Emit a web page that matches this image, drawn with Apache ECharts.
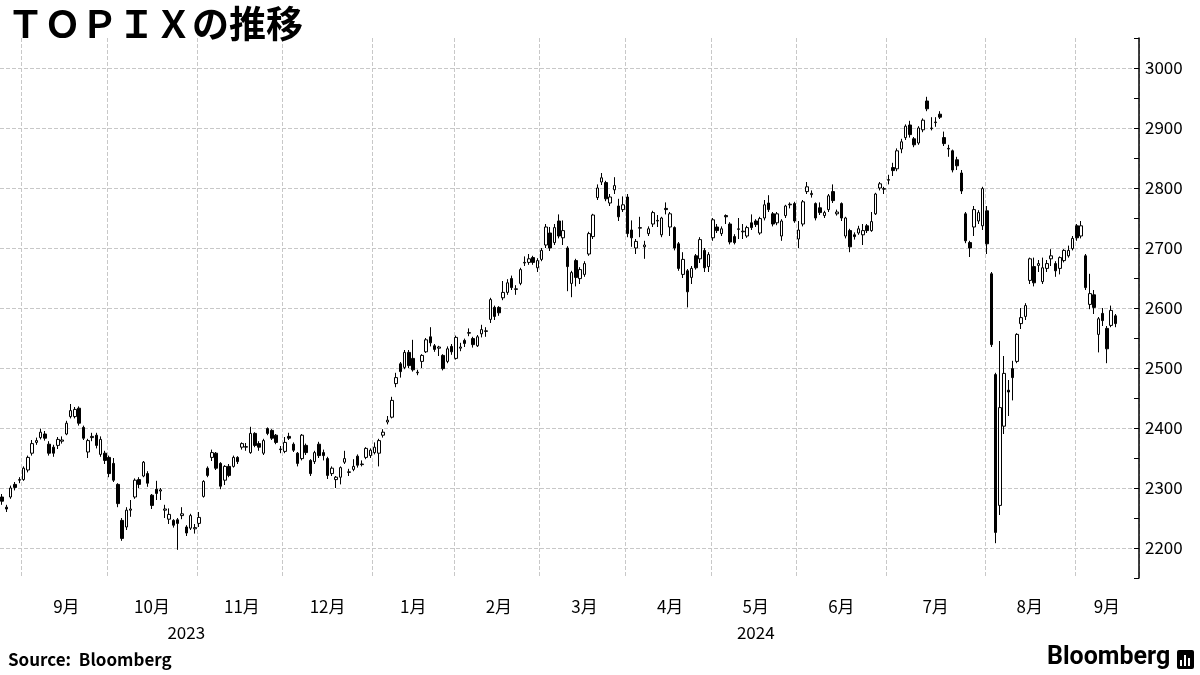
<!DOCTYPE html>
<html>
<head>
<meta charset="utf-8">
<script src="https://cdn.jsdelivr.net/npm/echarts@6/dist/echarts.min.js"></script>
<style>html,body{margin:0;padding:0;background:#fff}#main{width:1200px;height:675px}</style>
</head>
<body>
<div id="main"></div>
<script>
// daily candles [open, close, low, high], one list per month
var aug23 = [[2285,2278,2272,2290],[2268,2265,2260,2272],[2285,2300,2282,2304],[2306,2301,2296,2310],[2313,2314,2308,2318]];
var sep23 = [[2314,2333,2312,2336],[2330,2351,2326,2354],[2358,2374,2354,2380],[2376,2379,2372,2384],[2384,2393,2381,2399],
  [2390,2383,2379,2395],[2373,2358,2354,2378],[2368,2358,2352,2372],[2371,2381,2365,2385],[2378,2380,2374,2386],
  [2390,2408,2388,2412],[2419,2429,2416,2440],[2419,2431,2416,2435],[2433,2408,2404,2436],[2401,2383,2380,2404],
  [2360,2379,2350,2382],[2384,2386,2378,2392],[2388,2371,2366,2392],[2356,2381,2352,2386],[2358,2346,2340,2362]];
var oct23 = [[2351,2324,2318,2354],[2341,2313,2310,2350],[2306,2274,2268,2308],[2246,2216,2212,2250],[2235,2263,2230,2268],
  [2263,2265,2252,2280],[2285,2313,2282,2316],[2314,2306,2300,2318],[2320,2343,2318,2345],[2324,2308,2302,2328],
  [2288,2271,2265,2290],[2298,2291,2280,2312],[2295,2297,2280,2300],[2263,2265,2250,2272],[2248,2256,2240,2266],
  [2246,2238,2234,2248],[2247,2241,2197,2250],[2254,2257,2248,2268],[2235,2225,2220,2238],[2233,2254,2230,2257],
  [2232,2234,2224,2240]];
var nov23 = [[2241,2251,2235,2260],[2286,2311,2284,2313],[2333,2321,2318,2336],[2351,2359,2345,2364],[2358,2333,2330,2360],
  [2341,2303,2298,2343],[2313,2336,2305,2338],[2336,2321,2318,2340],[2336,2351,2334,2354],[2351,2344,2340,2353],
  [2368,2374,2364,2376],[2368,2369,2362,2375],[2359,2391,2357,2402],[2391,2371,2368,2393],[2374,2368,2362,2378],
  [2358,2379,2355,2382],[2399,2391,2388,2401],[2396,2383,2380,2398],[2388,2376,2373,2390],[2364,2365,2358,2370]];
var dec23 = [[2361,2376,2358,2385],[2386,2383,2380,2392],[2373,2363,2360,2376],[2358,2341,2336,2360],[2349,2388,2346,2390],
  [2371,2359,2355,2374],[2346,2324,2320,2348],[2344,2359,2340,2362],[2373,2354,2350,2377],[2359,2354,2346,2364],
  [2349,2321,2315,2352],[2324,2333,2320,2336],[2314,2318,2300,2320],[2318,2334,2306,2336],[2343,2349,2340,2362],
  [2326,2327,2320,2332],[2331,2336,2328,2348],[2353,2338,2334,2356],[2339,2340,2336,2346],[2351,2366,2348,2368],
  [2354,2363,2350,2366]];
var jan24 = [[2359,2368,2356,2376],[2358,2379,2336,2382],[2388,2393,2384,2398],[2410,2413,2406,2420],[2418,2446,2416,2452],
  [2474,2484,2468,2492],[2507,2494,2484,2510],[2501,2526,2498,2530],[2526,2504,2500,2530],[2516,2497,2494,2547],
  [2492,2493,2488,2497],[2511,2521,2500,2523],[2527,2547,2525,2550],[2552,2542,2536,2568],[2537,2531,2527,2540],
  [2533,2535,2520,2537],[2521,2499,2496,2523],[2511,2532,2508,2536],[2536,2527,2522,2540]];
var feb24 = [[2516,2551,2514,2554],[2533,2535,2528,2542],[2546,2541,2535,2549],[2558,2559,2553,2566],[2549,2539,2534,2552],
  [2537,2552,2535,2555],[2557,2564,2551,2572],[2561,2562,2552,2568],[2581,2614,2575,2617],[2601,2586,2580,2604],
  [2601,2592,2587,2603],[2617,2626,2613,2645],[2626,2642,2622,2648],[2649,2634,2630,2654],[2631,2632,2622,2638],
  [2641,2664,2638,2667],[2675,2676,2670,2686],[2676,2682,2672,2690],[2684,2676,2672,2687],[2667,2679,2660,2683]];
var mar24 = [[2681,2696,2678,2700],[2705,2735,2700,2740],[2725,2700,2695,2735],[2709,2734,2705,2740],[2745,2720,2716,2756],
  [2717,2729,2705,2746],[2700,2669,2628,2703],[2641,2659,2618,2662],[2679,2651,2636,2682],[2649,2664,2640,2668],
  [2656,2674,2652,2678],[2690,2724,2687,2727],[2719,2755,2715,2757],[2784,2800,2780,2806],[2810,2817,2805,2825],
  [2809,2782,2778,2812],[2775,2785,2770,2790],[2797,2804,2790,2818],[2770,2752,2745,2782],[2764,2772,2760,2786]];
var apr24 = [[2785,2724,2718,2790],[2730,2717,2702,2746],[2700,2711,2690,2715],[2733,2734,2718,2752],[2702,2705,2682,2712],
  [2724,2732,2720,2736],[2740,2759,2735,2762],[2745,2746,2735,2755],[2722,2750,2718,2752],[2766,2764,2756,2776],
  [2735,2757,2720,2760],[2734,2700,2696,2736],[2707,2666,2662,2710],[2656,2681,2650,2693],[2662,2627,2601,2665],
  [2651,2666,2640,2670],[2687,2667,2664,2690],[2682,2714,2675,2718],[2696,2667,2660,2700],[2669,2689,2660,2693]];
var may24 = [[2717,2747,2712,2750],[2735,2729,2725,2740],[2724,2732,2720,2736],[2754,2752,2740,2756],[2740,2710,2706,2743],
  [2719,2709,2706,2723],[2731,2732,2715,2750],[2727,2728,2715,2740],[2720,2734,2717,2737],[2742,2734,2730,2756],
  [2745,2739,2735,2748],[2725,2749,2722,2752],[2750,2772,2746,2780],[2775,2764,2760,2788],[2757,2740,2736,2760],
  [2742,2757,2738,2760],[2720,2745,2712,2748],[2754,2770,2750,2772],[2772,2773,2766,2776],[2774,2745,2742,2777]];
var jun24 = [[2715,2730,2700,2745],[2740,2777,2736,2780],[2794,2802,2790,2810],[2789,2791,2784,2796],[2774,2750,2746,2776],
  [2767,2759,2755,2776],[2754,2759,2750,2762],[2764,2787,2760,2790],[2794,2779,2775,2806],[2757,2760,2754,2764],
  [2774,2750,2745,2776],[2720,2750,2716,2752],[2729,2702,2693,2732],[2722,2719,2714,2726],[2725,2732,2722,2737],
  [2722,2729,2705,2740],[2737,2729,2725,2740],[2729,2744,2727,2760],[2757,2790,2755,2792],[2800,2807,2796,2810],
  [2798,2799,2790,2802]];
var jul24 = [[2813,2814,2806,2822],[2834,2829,2820,2842],[2832,2862,2828,2866],[2865,2877,2858,2882],[2884,2903,2880,2906],
  [2905,2889,2884,2912],[2882,2872,2868,2885],[2875,2900,2872,2903],[2897,2913,2893,2916],[2945,2932,2928,2952],
  [2899,2900,2896,2918],[2909,2910,2902,2918],[2923,2918,2915,2928],[2884,2874,2870,2894],[2865,2866,2852,2872],
  [2862,2830,2826,2864],[2847,2837,2830,2852],[2825,2795,2790,2830],[2757,2712,2708,2760],[2709,2700,2685,2712],
  [2735,2764,2720,2770],[2745,2759,2740,2763],[2737,2799,2730,2802]];
var aug24 = [[2762,2707,2690,2770],[2657,2539,2535,2660],[2489,2226,2208,2492],[2271,2434,2255,2545],[2403,2491,2390,2520],
  [2463,2460,2420,2480],[2499,2484,2446,2512],[2511,2556,2508,2558],[2574,2584,2565,2600],[2586,2604,2580,2608],
  [2646,2682,2640,2684],[2669,2642,2636,2684],[2671,2674,2660,2680],[2644,2667,2640,2684],[2666,2674,2660,2680],
  [2682,2687,2670,2698],[2674,2662,2652,2678],[2666,2684,2656,2686],[2679,2696,2676,2698],[2687,2696,2684,2704],
  [2699,2716,2696,2720]];
var sep24 = [[2737,2717,2712,2740],[2720,2737,2716,2745],[2687,2634,2630,2690],[2606,2624,2598,2657],[2622,2601,2590,2630],
  [2556,2582,2526,2585],[2591,2579,2570,2600],[2566,2532,2508,2570],[2571,2596,2568,2604],[2587,2574,2568,2590]];

var months = [aug23, sep23, oct23, nov23, dec23, jan24, feb24, mar24, apr24, may24, jun24, jul24, aug24, sep24];
var monthNames = ['','9月','10月','11月','12月','1月','2月','3月','4月','5月','6月','7月','8月','9月'];
var years = ['2023', '2024'];
var padDays = 5;

var candles = [], cats = [], monthStart = {}, monthMid = {};
months.forEach(function (m, k) {
  monthStart[candles.length] = true;
  var span = m.length + (k === months.length - 1 ? padDays : 0);
  if (monthNames[k]) monthMid[candles.length + Math.floor(span / 2)] = monthNames[k];
  m.forEach(function (d) { candles.push(d); });
});
for (var i = 0; i < padDays; i++) candles.push(['-', '-', '-', '-']);
candles.forEach(function (d, i) { cats.push(String(i)); });
// year label at centre of each year's span
var janStart = aug23.length + sep23.length + oct23.length + nov23.length + dec23.length;
var yearMid = {};
yearMid[Math.floor(janStart / 2)] = years[0];
yearMid[Math.floor((janStart + candles.length) / 2)] = years[1];

var myChart = echarts.init(document.getElementById('main'), null, { renderer: 'canvas' });
var font = '"Noto Sans CJK JP", "Noto Sans", sans-serif';

var option = {
  animation: false,
  backgroundColor: '#fff',
  textStyle: { fontFamily: font },
  title: {
    text: 'ＴＯＰＩＸの推移',
    left: 2, top: 0,
    textStyle: { fontSize: 37, fontWeight: 'bold', color: '#000', fontFamily: font }
  },
  grid: { left: 0, right: 61, top: 38, bottom: 97 },
  xAxis: [{
    type: 'category',
    data: cats,
    boundaryGap: true,
    axisLine: { show: false },
    axisTick: { show: false },
    axisLabel: {
      interval: function (i) { return monthMid[i] !== undefined; },
      formatter: function (v, i) { return monthMid[i] || ''; },
      margin: 20, fontSize: 17, color: '#000'
    },
    splitLine: {
      show: true,
      interval: function (i) { return monthStart[i] === true && i > 0; },
      lineStyle: { color: '#c8c8c8', type: 'dashed' }
    }
  }, {
    type: 'category',
    data: cats,
    position: 'bottom',
    boundaryGap: true,
    axisLine: { show: false },
    axisTick: { show: false },
    axisLabel: {
      interval: function (i) { return yearMid[i] !== undefined; },
      formatter: function (v, i) { return yearMid[i] || ''; },
      margin: 46, fontSize: 17, color: '#000'
    }
  }],
  yAxis: {
    type: 'value',
    position: 'right',
    min: 2150, max: 3050, interval: 50,
    axisLine: { show: true, lineStyle: { color: '#000', width: 1.5 } },
    axisTick: { show: true, inside: true, length: 5, lineStyle: { color: '#000' } },
    axisLabel: {
      fontSize: 17, color: '#000', margin: 6,
      formatter: function (v) { return (v % 100 === 0 && v >= 2200 && v <= 3000) ? v : ''; }
    },
    splitLine: { show: true, lineStyle: { color: ['transparent', '#c8c8c8'], type: 'dashed' } }
  },
  series: [{
    type: 'candlestick',
    data: candles,
    barWidth: 3,
    itemStyle: {
      color: '#fff', color0: '#000',
      borderColor: '#000', borderColor0: '#000', borderWidth: 1
    }
  }],
  graphic: [
    { type: 'text', left: 8, top: 651, style: { text: 'Source:  Bloomberg', font: 'bold 17px ' + font, fill: '#000' } },
    { type: 'text', left: 1047, top: 645, style: { text: 'Bloomberg', font: 'bold 25px Roboto, "Noto Sans", sans-serif', fill: '#000' } },
    { type: 'rect', left: 1177, top: 650, shape: { width: 17, height: 19, r: 2 }, style: { fill: '#000' } },
    { type: 'rect', left: 1180, top: 660, shape: { width: 2, height: 6 }, style: { fill: '#fff' } },
    { type: 'rect', left: 1184, top: 655, shape: { width: 2, height: 11 }, style: { fill: '#fff' } },
    { type: 'rect', left: 1188, top: 658, shape: { width: 2, height: 8 }, style: { fill: '#fff' } }
  ]
};

myChart.setOption(option);
window.addEventListener('resize', myChart.resize);
</script>
</body>
</html>
